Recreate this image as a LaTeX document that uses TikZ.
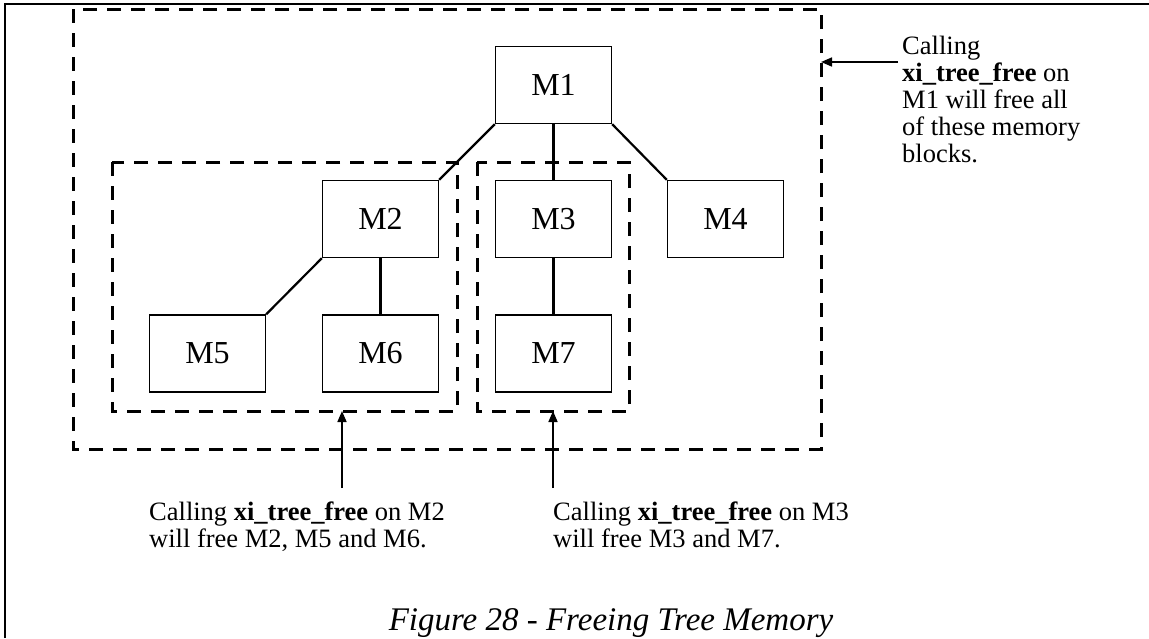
\documentclass[tikz,border=0pt]{standalone}
\usepackage{fontspec}
\setmainfont{Liberation Serif}
\usetikzlibrary{arrows.meta}
\begin{document}
\begin{tikzpicture}[x=1pt,y=-1pt,
  blk/.style={draw, line width=1.4pt, minimum width=116pt, minimum height=77pt,
              inner sep=0pt, font=\fontsize{32}{34}\selectfont},
  link/.style={line width=2.2pt},
  group/.style={draw, line width=3pt, dash pattern=on 14pt off 10pt},
  pointer/.style={line width=1.6pt, -{Triangle[length=11pt,width=9pt]}},
  note/.style={inner sep=0pt, align=left, anchor=north west,
               font=\fontsize{26.5}{27}\selectfont,
               execute at begin node={\setlength{\baselineskip}{27pt}}},
  frameline/.style={line width=2pt}]
  \useasboundingbox (0,0) rectangle (1149,638);

  % page frame (left and top edge)
  \draw[frameline] (5,638) -- (5,4) -- (1149,4);

  % memory blocks
  \node[blk] (m1) at (553.5,85) {M1};
  \node[blk] (m2) at (380.5,219) {M2};
  \node[blk] (m3) at (553.5,219) {M3};
  \node[blk] (m4) at (725.5,219) {M4};
  \node[blk] (m5) at (207.5,353.5) {M5};
  \node[blk] (m6) at (380.5,353.5) {M6};
  \node[blk] (m7) at (553.5,353.5) {M7};

  % parent/child links
  \draw[link] (m1.south west) -- (m2.north east);
  \draw[link] (m1.south) -- (m3.north);
  \draw[link] (m1.south east) -- (m4.north west);
  \draw[link] (m2.south west) -- (m5.north east);
  \draw[link] (m2.south) -- (m6.north);
  \draw[link] (m3.south) -- (m7.north);

  % freed subtrees
  \coordinate (allNW) at (73,9);
  \coordinate (allSE) at (821,449);
  \coordinate (subAnw) at (112,162);
  \coordinate (subAse) at (457,411);
  \coordinate (subBnw) at (477,162);
  \coordinate (subBse) at (629,411);
  \draw[group] (allNW) rectangle (allSE);
  \draw[group] (subAnw) rectangle (subAse);
  \draw[group] (subBnw) rectangle (subBse);

  % notes
  \node[note] (noteAll) at (902,36)
    {Calling\\\textbf{xi\_tree\_free} on\\M1 will free all\\of these memory\\blocks.};
  \node[note] (noteA) at (149,502)
    {Calling \textbf{xi\_tree\_free} on M2\\will free M2, M5 and M6.};
  \node[note] (noteB) at (553,502)
    {Calling \textbf{xi\_tree\_free} on M3\\will free M3 and M7.};

  \coordinate (pAll) at (898,62);
  \coordinate (tAll) at (821,62);
  \coordinate (pA) at (342,488);
  \coordinate (tA) at (342,411);
  \coordinate (pB) at (553,488);
  \coordinate (tB) at (553,411);
  \draw[pointer] (pAll) -- (tAll);
  \draw[pointer] (pA) -- (tA);
  \draw[pointer] (pB) -- (tB);

  % caption
  \node[inner sep=0pt, anchor=base, font=\fontsize{33}{36}\selectfont\itshape]
    (caption) at (611,630) {Figure 28 - Freeing Tree Memory};
\end{tikzpicture}
\end{document}
